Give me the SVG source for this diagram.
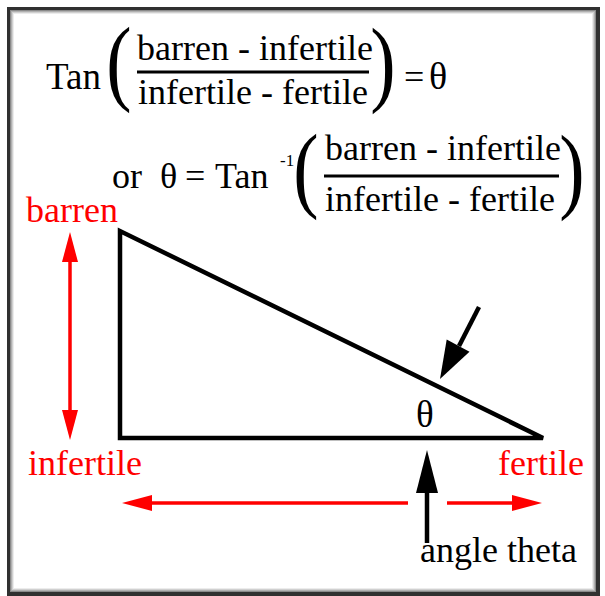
<svg xmlns="http://www.w3.org/2000/svg" width="605" height="596" viewBox="0 0 605 596">
<style>
.t{font-family:"Liberation Serif","Times New Roman",serif;font-size:36px;fill:#000}
.r{fill:#ff0000}
.sup{font-size:17px}
.par{font-family:"Liberation Serif","Times New Roman",serif;font-size:95px;fill:#000;text-anchor:middle}
.bar{stroke:#000;stroke-width:3}
.rl{stroke:#ff0000;stroke-width:3.5;fill:none}
.bl{stroke:#000;stroke-width:4.5;fill:none}
.rh{fill:#ff0000}
.bh{fill:#000}
</style>
<rect x="0" y="0" width="605" height="596" fill="#fff"/>
<g id="frame">
<rect x="7" y="7" width="593" height="589" fill="#303030"/>
<rect x="10" y="10" width="586" height="582" fill="#8a8a8a"/>
<rect x="11" y="11" width="584" height="580" fill="#b0b0b0"/>
<rect x="12" y="12" width="582" height="578" fill="#d0d0d0"/>
<rect x="13" y="13" width="580" height="576" fill="#ececec"/>
<rect x="14" y="14" width="578" height="574" fill="#fff"/>
</g>
<g id="formula1">
<text class="t" x="46" y="89" style="font-size:37px">Tan</text>
<text class="par" transform="translate(119,93) scale(0.8,1)">(</text>
<text class="t" x="137" y="60">barren - infertile</text>
<line class="bar" x1="137" y1="72" x2="369" y2="72"/>
<text class="t" x="138" y="104">infertile - fertile</text>
<text class="par" transform="translate(383,94) scale(0.8,1)">)</text>
<text class="t" x="404" y="89">=</text>
<text class="t" x="429" y="89" style="font-size:38px">θ</text>
</g>
<g id="formula2">
<text class="t" x="112" y="188">or</text>
<text class="t" x="160" y="188">θ</text>
<text class="t" x="185" y="188">=</text>
<text class="t" x="215" y="188">Tan</text>
<text class="t sup" x="280" y="166">-1</text>
<text class="par" transform="translate(306,200) scale(0.8,1)">(</text>
<text class="t" x="325" y="160">barren - infertile</text>
<line class="bar" x1="324" y1="176" x2="559" y2="176"/>
<text class="t" x="325" y="211">infertile - fertile</text>
<text class="par" transform="translate(572,201) scale(0.8,1)">)</text>
</g>
<g id="triangle">
<polygon points="120,231 120,438 543,438" fill="none" stroke="#000" stroke-width="4.5" stroke-linejoin="miter"/>
<text class="t" x="416" y="427" style="font-size:37px">θ</text>
</g>
<g id="labels">
<text class="t r" x="26" y="222">barren</text>
<text class="t r" x="28" y="475">infertile</text>
<text class="t r" x="498" y="475">fertile</text>
<text class="t" x="420" y="562">angle theta</text>
</g>
<g id="connectors">
<line class="rl" x1="70" y1="260" x2="70" y2="412"/>
<polygon class="rh" points="70,232 78,262 62,262"/>
<polygon class="rh" points="70,440 78,410 62,410"/>
<line class="rl" x1="150" y1="503" x2="408" y2="503"/>
<polygon class="rh" points="122,503 152,495 152,511"/>
<line class="rl" x1="447" y1="503" x2="514" y2="503"/>
<polygon class="rh" points="542,503 512,495 512,511"/>
<line class="bl" x1="427" y1="491" x2="427" y2="543" stroke-width="4"/>
<polygon class="bh" points="427,450 438,493 416,493"/>
<line class="bl" x1="479" y1="307" x2="459" y2="346"/>
<polygon class="bh" points="440,379 469.5,351.8 446.7,339.4"/>
</g>
</svg>
